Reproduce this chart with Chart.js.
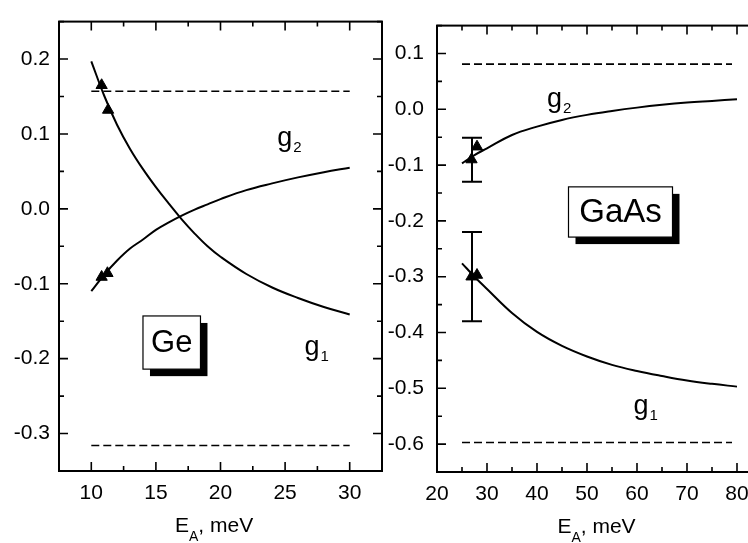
<!DOCTYPE html>
<html>
<head>
<meta charset="utf-8">
<script src="https://cdn.jsdelivr.net/npm/chart.js@4.4.1/dist/chart.umd.min.js"></script>
<style>
  html, body { margin: 0; padding: 0; background: #fff; overflow: hidden; width: 748px; height: 543px; }
  #wrapGe { position: absolute; left: 0; top: 0; }
  #wrapGaAs { position: absolute; left: 385px; top: 0; }
</style>
</head>
<body>
<div id="wrapGe"><canvas id="chartGe" width="390" height="543"></canvas></div>
<div id="wrapGaAs"><canvas id="chartGaAs" width="385" height="543"></canvas></div>
<script>
// ---- Ge panel data ----
const geX = [10, 11, 12, 13, 14, 15, 16, 17, 18, 19, 20, 22, 24, 26, 28, 30];
const geG1 = [0.197, 0.151, 0.112, 0.080, 0.053, 0.029, 0.007, -0.014, -0.033, -0.050, -0.064, -0.087, -0.105, -0.119, -0.131, -0.141];
const geG2 = [-0.110, -0.088, -0.069, -0.053, -0.041, -0.028, -0.018, -0.009, -0.001, 0.006, 0.013, 0.025, 0.034, 0.042, 0.049, 0.055];
const geLimitX = [10, 30];
const geG1Limit = [-0.316, -0.316];
const geG2Limit = [0.157, 0.157];
const geExpG1X = [10.8, 11.3];
const geExpG1 = [0.165, 0.132];
const geExpG2X = [10.8, 11.25];
const geExpG2 = [-0.091, -0.086];
const geXTicks = [10, 15, 20, 25, 30];
const geXMinor = [7.5, 12.5, 17.5, 22.5, 27.5, 32.5];
const geYTicks = [-0.3, -0.2, -0.1, 0.0, 0.1, 0.2];
const geYMinor = [-0.35, -0.25, -0.15, -0.05, 0.05, 0.15, 0.25];

// ---- GaAs panel data ----
const gaasX = [25, 27.5, 30, 35, 40, 45, 50, 55, 60, 65, 70, 75, 80];
const gaasG1 = [-0.276, -0.300, -0.322, -0.365, -0.399, -0.424, -0.443, -0.458, -0.469, -0.478, -0.486, -0.492, -0.497];
const gaasG2 = [-0.097, -0.082, -0.070, -0.046, -0.031, -0.019, -0.010, -0.003, 0.003, 0.008, 0.012, 0.015, 0.018];
const gaasLimitX = [25, 79];
const gaasG1Limit = [-0.597, -0.597];
const gaasG2Limit = [0.081, 0.081];
const gaasExpX = [26.9, 28.0];
const gaasExpG1 = [-0.300, -0.297];
const gaasExpG2 = [-0.090, -0.067];
const gaasErrX = [27.0, 27.0];
const gaasErrLow = [-0.130, -0.380];
const gaasErrHigh = [-0.051, -0.220];
const gaasXTicks = [20, 30, 40, 50, 60, 70, 80];
const gaasXMinor = [25, 35, 45, 55, 65, 75, 85];
const gaasYTicks = [-0.6, -0.5, -0.4, -0.3, -0.2, -0.1, 0.0, 0.1];
const gaasYMinor = [-0.65, -0.55, -0.45, -0.35, -0.25, -0.15, -0.05, 0.05, 0.15];

const FONT = "'Liberation Sans', Arial, Helvetica, sans-serif";
Chart.defaults.font.family = FONT;
Chart.defaults.color = "#000";

function pts(xs, ys) {
    return xs.map((x, i) => ({x: x, y: ys[i]}));
}

function curve(xs, ys) {
    return {
        data: pts(xs, ys), showLine: true, borderColor: "#000", borderWidth: 2, pointRadius: 0,
        tension: 0.4, fill: false,
    };
}

function dashed(xs, ys) {
    return {
        data: pts(xs, ys), showLine: true, borderColor: "#000", borderWidth: 1.6, borderDash: [8, 4],
        pointRadius: 0, fill: false,
    };
}

function markers(xs, ys) {
    return {
        data: pts(xs, ys), showLine: false, pointStyle: "triangle", pointRadius: 6.5,
        pointBackgroundColor: "#000", pointBorderColor: "#000", pointBorderWidth: 1,
    };
}

function drawSub(ctx, base, sub, x, y, size, subSize, drop) {
    ctx.font = size + "px " + FONT;
    ctx.fillText(base, x, y);
    const w = ctx.measureText(base).width;
    ctx.font = subSize + "px " + FONT;
    ctx.fillText(sub, x + w + 1, y + drop);
    return w + 1 + ctx.measureText(sub).width;
}

// frame, inward ticks, labels, boxed material name, error bars
function decor(p) {
    return {
        id: "decor",
        afterDatasetsDraw(chart) {
            const {ctx, chartArea: a, scales: {x, y}} = chart;
            ctx.save();
            ctx.strokeStyle = "#000";
            ctx.fillStyle = "#000";

            // error bars
            ctx.lineWidth = 2;
            (p.errX || []).forEach((ex, i) => {
                const px = x.getPixelForValue(ex);
                const lo = y.getPixelForValue(p.errLow[i]);
                const hi = y.getPixelForValue(p.errHigh[i]);
                ctx.beginPath();
                ctx.moveTo(px, lo); ctx.lineTo(px, hi);
                ctx.moveTo(px - 10, lo); ctx.lineTo(px + 10, lo);
                ctx.moveTo(px - 10, hi); ctx.lineTo(px + 10, hi);
                ctx.stroke();
            });

            // frame
            ctx.lineWidth = 2;
            ctx.strokeRect(a.left, a.top, a.right - a.left, a.bottom - a.top);

            // ticks pointing inward on all four sides
            ctx.lineWidth = 1.6;
            ctx.beginPath();
            const xt = (vals, len) => vals.forEach(v => {
                const px = x.getPixelForValue(v);
                ctx.moveTo(px, a.bottom); ctx.lineTo(px, a.bottom - len);
                ctx.moveTo(px, a.top); ctx.lineTo(px, a.top + len);
            });
            const yt = (vals, len) => vals.forEach(v => {
                const py = y.getPixelForValue(v);
                ctx.moveTo(a.left, py); ctx.lineTo(a.left + len, py);
                ctx.moveTo(a.right, py); ctx.lineTo(a.right - len, py);
            });
            xt(p.xMajor, 9); xt(p.xMinor, 5);
            yt(p.yMajor, 9); yt(p.yMinor, 5);
            ctx.stroke();

            // g labels
            ctx.textAlign = "left";
            ctx.textBaseline = "alphabetic";
            p.labels.forEach(l => {
                drawSub(ctx, "g", l.sub, x.getPixelForValue(l.x), y.getPixelForValue(l.y), 27, 15, 6);
            });

            // boxed material name with shadow
            const b = p.box;
            const bx1 = x.getPixelForValue(b.x1), bx2 = x.getPixelForValue(b.x2);
            const by1 = y.getPixelForValue(b.y1), by2 = y.getPixelForValue(b.y2);
            ctx.fillStyle = "#000";
            ctx.fillRect(bx1 + 7, by1 + 7, bx2 - bx1, by2 - by1);
            ctx.fillStyle = "#fff";
            ctx.fillRect(bx1, by1, bx2 - bx1, by2 - by1);
            ctx.lineWidth = 1.2;
            ctx.strokeRect(bx1, by1, bx2 - bx1, by2 - by1);
            ctx.fillStyle = "#000";
            ctx.font = b.size + "px " + FONT;
            ctx.textAlign = "center";
            ctx.textBaseline = "middle";
            ctx.fillText(b.text, (bx1 + bx2) / 2, (by1 + by2) / 2 + 1);

            // x axis title E_A, meV
            ctx.textAlign = "left";
            ctx.textBaseline = "alphabetic";
            const tx = x.getPixelForValue(p.titleX);
            const ty = a.bottom + 61;
            ctx.font = "21px " + FONT;
            const wE = ctx.measureText("E").width;
            ctx.font = "14px " + FONT;
            const wA = ctx.measureText("A").width;
            ctx.font = "21px " + FONT;
            const wR = ctx.measureText(", meV").width;
            let sx = tx - (wE + wA + wR) / 2;
            ctx.fillText("E", sx, ty);
            ctx.font = "14px " + FONT;
            ctx.fillText("A", sx + wE, ty + 9);
            ctx.font = "21px " + FONT;
            ctx.fillText(", meV", sx + wE + wA, ty);
            ctx.restore();
        }
    };
}

function makeChart(id, p) {
    return new Chart(document.getElementById(id), {
        type: "scatter",
        data: {datasets: p.datasets},
        options: {
            responsive: false,
            animation: false,
            devicePixelRatio: 1,
            layout: {padding: p.padding},
            plugins: {legend: {display: false}, tooltip: {enabled: false}},
            scales: {
                x: {
                    type: "linear", min: p.xMin, max: p.xMax,
                    grid: {display: false, drawTicks: false}, border: {display: false},
                    afterBuildTicks: s => { s.ticks = p.xMajor.map(v => ({value: v})); },
                    afterFit: s => { s.height = p.xAxisH; },
                    ticks: {padding: 10, maxRotation: 0, autoSkip: false, font: {size: 21},
                        callback: v => String(v)},
                },
                y: {
                    type: "linear", min: p.yMin, max: p.yMax,
                    grid: {display: false, drawTicks: false}, border: {display: false},
                    afterBuildTicks: s => { s.ticks = p.yMajor.map(v => ({value: v})); },
                    afterFit: s => { s.width = p.yAxisW; },
                    ticks: {padding: p.yPad, autoSkip: false, font: {size: 21},
                        callback: v => Number(v).toFixed(1)},
                },
            },
        },
        plugins: [decor(p)],
    });
}

makeChart("chartGe", {
    datasets: [
        dashed(geLimitX, geG2Limit), dashed(geLimitX, geG1Limit),
        curve(geX, geG1), curve(geX, geG2),
        markers(geExpG1X, geExpG1), markers(geExpG2X, geExpG2),
    ],
    padding: {left: 0, right: 8, top: 8, bottom: 0},
    xMin: 7.5, xMax: 32.5, yMin: -0.35, yMax: 0.25,
    xAxisH: 72, yAxisW: 59, yPad: 9,
    xMajor: geXTicks, xMinor: geXMinor, yMajor: geYTicks, yMinor: geYMinor,
    labels: [{sub: "2", x: 24.4, y: 0.084}, {sub: "1", x: 26.5, y: -0.195}],
    box: {text: "Ge", size: 31, x1: 14.0, x2: 18.45, y1: -0.143, y2: -0.214},
    titleX: 19.5,
});

makeChart("chartGaAs", {
    datasets: [
        dashed(gaasLimitX, gaasG2Limit), dashed(gaasLimitX, gaasG1Limit),
        curve(gaasX, gaasG1), curve(gaasX, gaasG2),
        markers(gaasExpX, gaasExpG1), markers(gaasExpX, gaasExpG2),
    ],
    padding: {left: 0, right: 8, top: 9, bottom: 0},
    xMin: 20, xMax: 85, yMin: -0.65, yMax: 0.15,
    xAxisH: 71, yAxisW: 52, yPad: 13,
    xMajor: gaasXTicks, xMinor: gaasXMinor, yMajor: gaasYTicks, yMinor: gaasYMinor,
    errX: gaasErrX, errLow: gaasErrLow, errHigh: gaasErrHigh,
    labels: [{sub: "2", x: 42.0, y: 0.005}, {sub: "1", x: 59.3, y: -0.546}],
    box: {text: "GaAs", size: 33, x1: 46.3, x2: 67.1, y1: -0.139, y2: -0.229},
    titleX: 51.9,
});
</script>
</body>
</html>
